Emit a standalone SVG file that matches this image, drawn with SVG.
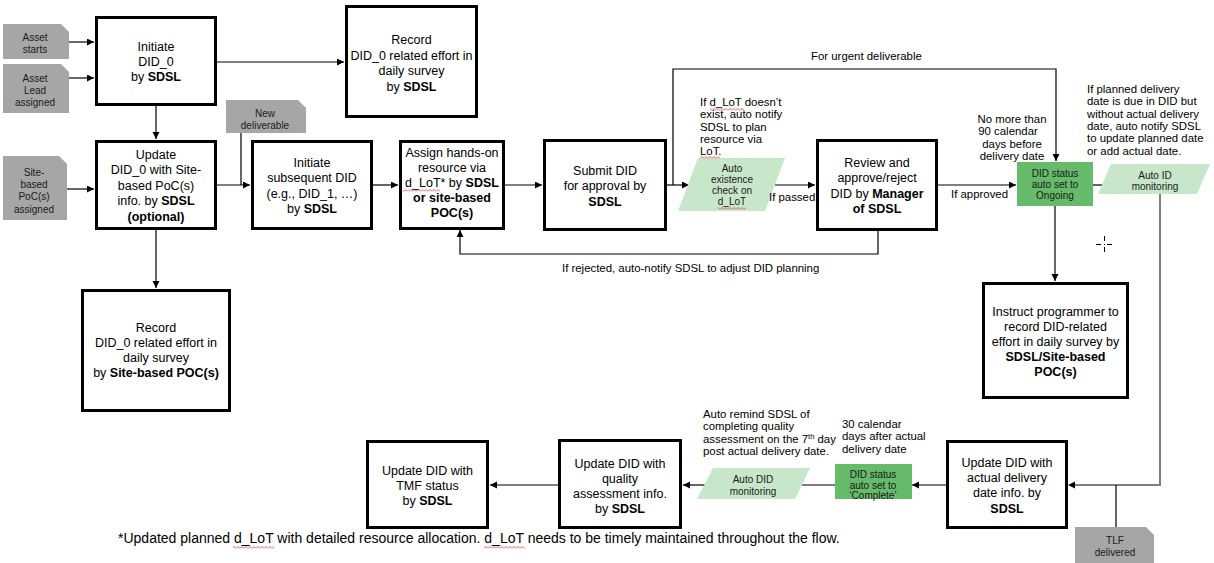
<svg xmlns="http://www.w3.org/2000/svg" width="1214" height="563" viewBox="0 0 1214 563">
<style>
text{font-family:"Liberation Sans",Arial,sans-serif;fill:#000}
.m{font-size:12.5px;text-anchor:middle}
.b{font-weight:bold}
.s{font-size:10px;text-anchor:middle;fill:#1a1a1a}
.n{font-size:11.4px}
.nc{font-size:11.4px;text-anchor:middle}
.f{font-size:14px}
.box{fill:#fff;stroke:#000;stroke-width:3}
.tab{fill:#a6a6a6}
.dg{fill:#66bb6a}
.lg{fill:#c8e6c9}
.c{fill:none;stroke:#000;stroke-width:1.2}
.g{fill:none;stroke:#7f7f7f;stroke-width:2}
.a{marker-end:url(#ah)}
.sq{fill:url(#sqp)}
</style>
<defs>
<marker id="ah" markerUnits="userSpaceOnUse" markerWidth="8" markerHeight="8" refX="7" refY="3.5" orient="auto">
<path d="M0,0 L7,3.5 L0,7 Z" fill="#000"/>
</marker>
<pattern id="sqp" width="4" height="3" patternUnits="userSpaceOnUse">
<path d="M0,2.5 L2,0.5 L4,2.5" fill="none" stroke="#e03030" stroke-width="0.8"/>
</pattern>
</defs>

<g id="connectors">
<path class="c a" d="M69,42 H94"/>
<path class="c a" d="M69,78 H94"/>
<path class="c a" d="M217,62 H344"/>
<path class="c a" d="M156,106 V139"/>
<path class="c a" d="M67,189 H94"/>
<path class="c a" d="M156,230 V288"/>
<path class="c a" d="M217,185 H250"/>
<path class="c" d="M241,133 V185"/>
<path class="c a" d="M373,185 H398"/>
<path class="c a" d="M505,185 H542"/>
<path class="c a" d="M667,185 H689"/>
<path class="c a" d="M673,185 V69 H1056 V161"/>
<path class="c a" d="M775,185 H815"/>
<path class="c a" d="M878,231 V254 H460 V230"/>
<path class="c a" d="M938,185 H1016"/>
<path class="c" d="M1093,185 H1104"/>
<path class="g" d="M1160,194 V485 H1075"/>
<path d="M1068,485 L1075,481.5 L1075,488.5 Z" fill="#000"/>
<path class="c a" d="M1055,206 V281"/>
<path class="c" d="M1116,527 V485"/>
<path class="c a" d="M946,485 H912"/>
<path class="c" d="M835,485 H802"/>
<path class="c a" d="M705,485 H683"/>
<path class="c a" d="M558,485 H490"/>
</g>

<g id="asset-starts">
<path class="tab" d="M3,24 H61 L69,32 V59 H3 Z"/>
<text class="s" x="35" y="40.5">Asset</text>
<text class="s" x="35" y="52.5">starts</text>
</g>
<g id="asset-lead">
<path class="tab" d="M3,64 H61 L69,72 V113 H3 Z"/>
<text class="s" x="35" y="81.5">Asset</text>
<text class="s" x="35" y="93.5">Lead</text>
<text class="s" x="35" y="105.5">assigned</text>
</g>
<g id="site-poc">
<path class="tab" d="M3,156 H59 L67,164 V220 H3 Z"/>
<text class="s" x="34" y="175.5">Site-</text>
<text class="s" x="34" y="187.5">based</text>
<text class="s" x="34" y="200">PoC(s)</text>
<text class="s" x="34" y="212.5">assigned</text>
</g>
<g id="new-deliverable">
<path class="tab" d="M226,100 H298 L306,108 V133 H226 Z"/>
<text class="s" x="265" y="116.5">New</text>
<text class="s" x="265" y="128.5">deliverable</text>
</g>
<g id="tlf-delivered">
<path class="tab" d="M1075,527 H1146 L1154,535 V563 H1075 Z"/>
<text class="s" x="1115" y="543.5">TLF</text>
<text class="s" x="1115" y="555.5">delivered</text>
</g>

<g id="initiate-did0">
<rect class="box" x="96.5" y="17.5" width="119" height="87"/>
<text class="m" x="156" y="51">Initiate</text>
<text class="m" x="156" y="66">DID_0</text>
<text class="m" x="156" y="81">by <tspan class="b">SDSL</tspan></text>
</g>
<g id="record-did0-sdsl">
<rect class="box" x="346.5" y="6.5" width="130" height="110"/>
<text class="m" x="411.5" y="44">Record</text>
<text class="m" x="411.5" y="59.5">DID_0 related effort in</text>
<text class="m" x="411.5" y="75">daily survey</text>
<text class="m" x="411.5" y="90.5">by <tspan class="b">SDSL</tspan></text>
</g>
<g id="update-did0">
<rect class="box" x="96.5" y="141.5" width="119" height="87"/>
<text class="m" x="156" y="158.5">Update</text>
<text class="m" x="156" y="174">DID_0 with Site-</text>
<text class="m" x="156" y="189.5">based PoC(s)</text>
<text class="m" x="156" y="205">info. by <tspan class="b">SDSL</tspan></text>
<text class="m b" x="156" y="220.5">(optional)</text>
</g>
<g id="record-did0-site">
<rect class="box" x="82.5" y="290.5" width="147" height="120"/>
<text class="m" x="156" y="331.5">Record</text>
<text class="m" x="156" y="346.5">DID_0 related effort in</text>
<text class="m" x="156" y="361.5">daily survey</text>
<text class="m" x="156" y="376.5">by <tspan class="b">Site-based POC(s)</tspan></text>
</g>
<g id="initiate-subsequent">
<rect class="box" x="252.5" y="141.5" width="119" height="87"/>
<text class="m" x="312" y="166.5">Initiate</text>
<text class="m" x="312" y="182">subsequent DID</text>
<text class="m" x="312" y="197.5">(e.g., DID_1, …)</text>
<text class="m" x="312" y="213">by <tspan class="b">SDSL</tspan></text>
</g>
<g id="assign-resource">
<rect class="box" x="400.5" y="141.5" width="103" height="87"/>
<text class="m" x="452" y="156.5">Assign hands-on</text>
<text class="m" x="452" y="171.5">resource via</text>
<text class="m" x="452" y="186.5">d_LoT* by <tspan class="b">SDSL</tspan></text>
<text class="m b" x="452" y="201.5">or site-based</text>
<text class="m b" x="452" y="216.5">POC(s)</text>
<rect class="sq" x="403" y="189" width="37" height="3"/>
</g>
<g id="submit-did">
<rect class="box" x="544.5" y="140.5" width="121" height="89"/>
<text class="m" x="605" y="174.5">Submit DID</text>
<text class="m" x="605" y="190">for approval by</text>
<text class="m b" x="605" y="205.5">SDSL</text>
</g>
<g id="auto-existence-check">
<path class="lg" d="M698,158 H785 L765,211 H678 Z"/>
<text class="s" x="732" y="171.5">Auto</text>
<text class="s" x="732" y="182.5">existence</text>
<text class="s" x="732" y="193.5">check on</text>
<text class="s" x="732" y="204.5">d_LoT</text>
<rect class="sq" x="718" y="207" width="28" height="3"/>
</g>
<g id="note-lot">
<text class="n" x="700" y="106">If d_LoT doesn’t</text>
<text class="n" x="700" y="118.3">exist, auto notify</text>
<text class="n" x="700" y="130.6">SDSL to plan</text>
<text class="n" x="700" y="142.9">resource via</text>
<text class="n" x="700" y="155.2">LoT.</text>
<rect class="sq" x="710" y="108" width="34" height="3"/>
<rect class="sq" x="700" y="156" width="20" height="3"/>
</g>
<g id="labels">
<text class="n" x="811" y="60">For urgent deliverable</text>
<text class="n" x="562" y="272">If rejected, auto-notify SDSL to adjust DID planning</text>
<text class="n" x="769" y="200.5">If passed</text>
<text class="n" x="951" y="198">If approved</text>
</g>
<g id="review-approve">
<rect class="box" x="817.5" y="140.5" width="119" height="89"/>
<text class="m" x="877" y="166.5">Review and</text>
<text class="m" x="877" y="182">approve/reject</text>
<text class="m" x="877" y="197.5">DID by <tspan class="b">Manager</tspan></text>
<text class="m b" x="877" y="213">of SDSL</text>
</g>
<g id="note-90">
<text class="nc" x="1012" y="123">No more than</text>
<text class="nc" x="1008" y="135.3">90 calendar</text>
<text class="nc" x="1012" y="147.6">days before</text>
<text class="nc" x="1012" y="159.9">delivery date</text>
</g>
<g id="status-ongoing">
<rect class="dg" x="1017" y="162" width="76" height="44"/>
<text class="s" x="1055" y="176.5">DID status</text>
<text class="s" x="1055" y="187.5">auto set to</text>
<text class="s" x="1055" y="198.5">Ongoing</text>
</g>
<g id="auto-id-monitoring">
<path class="lg" d="M1111,164 H1210 L1197,194 H1098 Z"/>
<text class="s" x="1155" y="178.5">Auto ID</text>
<text class="s" x="1155" y="189.5">monitoring</text>
</g>
<g id="note-planned">
<text class="n" x="1087" y="93">If planned delivery</text>
<text class="n" x="1087" y="105.3">date is due in DID but</text>
<text class="n" x="1087" y="117.6">without actual delivery</text>
<text class="n" x="1087" y="129.9">date, auto notify SDSL</text>
<text class="n" x="1087" y="142.2">to update planned date</text>
<text class="n" x="1087" y="154.5">or add actual date.</text>
</g>
<g id="cursor-mark" stroke="#000" stroke-width="1">
<path d="M1096,244.5 H1101 M1107,244.5 H1112 M1104.5,236 V241 M1104.5,247 V252 M1104,244.5 H1105"/>
</g>
<g id="instruct-programmer">
<rect class="box" x="983.5" y="283.5" width="144" height="114"/>
<text class="m" x="1055.5" y="315.5">Instruct programmer to</text>
<text class="m" x="1055.5" y="330.5">record DID-related</text>
<text class="m" x="1055.5" y="345.5">effort in daily survey by</text>
<text class="m b" x="1055.5" y="360.5">SDSL/Site-based</text>
<text class="m b" x="1055.5" y="375.5">POC(s)</text>
</g>
<g id="update-actual">
<rect class="box" x="947.5" y="441.5" width="119" height="86"/>
<text class="m" x="1007" y="466.5">Update DID with</text>
<text class="m" x="1007" y="481.5">actual delivery</text>
<text class="m" x="1007" y="497">date info. by</text>
<text class="m b" x="1007" y="512.5">SDSL</text>
</g>
<g id="note-30">
<text class="n" x="842" y="428">30 calendar</text>
<text class="n" x="842" y="440.3">days after actual</text>
<text class="n" x="842" y="452.6">delivery date</text>
</g>
<g id="status-complete">
<rect class="dg" x="835" y="464" width="77" height="35"/>
<text class="s" x="873" y="477.5">DID status</text>
<text class="s" x="873" y="488.5">auto set to</text>
<text class="s" x="873" y="499">‘Complete’</text>
</g>
<g id="auto-did-monitoring">
<path class="lg" d="M713,468 H810 L795,499 H697 Z"/>
<text class="s" x="753" y="482.5">Auto DID</text>
<text class="s" x="753" y="494.5">monitoring</text>
</g>
<g id="note-remind">
<text class="n" x="703" y="418">Auto remind SDSL of</text>
<text class="n" x="703" y="430.3">completing quality</text>
<text class="n" x="703" y="442.6">assessment on the 7<tspan font-size="7.5px" dy="-4">th</tspan><tspan dy="4"> day</tspan></text>
<text class="n" x="703" y="454.9">post actual delivery date.</text>
</g>
<g id="update-quality">
<rect class="box" x="559.5" y="440.5" width="121" height="87"/>
<text class="m" x="620" y="467.5">Update DID with</text>
<text class="m" x="620" y="482.5">quality</text>
<text class="m" x="620" y="497.5">assessment info.</text>
<text class="m" x="620" y="513">by <tspan class="b">SDSL</tspan></text>
</g>
<g id="update-tmf">
<rect class="box" x="367.5" y="441.5" width="120" height="86"/>
<text class="m" x="427.5" y="474.5">Update DID with</text>
<text class="m" x="427.5" y="489.5">TMF status</text>
<text class="m" x="427.5" y="504.5">by <tspan class="b">SDSL</tspan></text>
</g>
<g id="footnote">
<text class="f" x="118" y="543">*Updated planned d_LoT with detailed resource allocation. d_LoT needs to be timely maintained throughout the flow.</text>
<rect class="sq" x="233" y="546" width="41" height="3"/>
<rect class="sq" x="484" y="546" width="41" height="3"/>
</g>
</svg>
